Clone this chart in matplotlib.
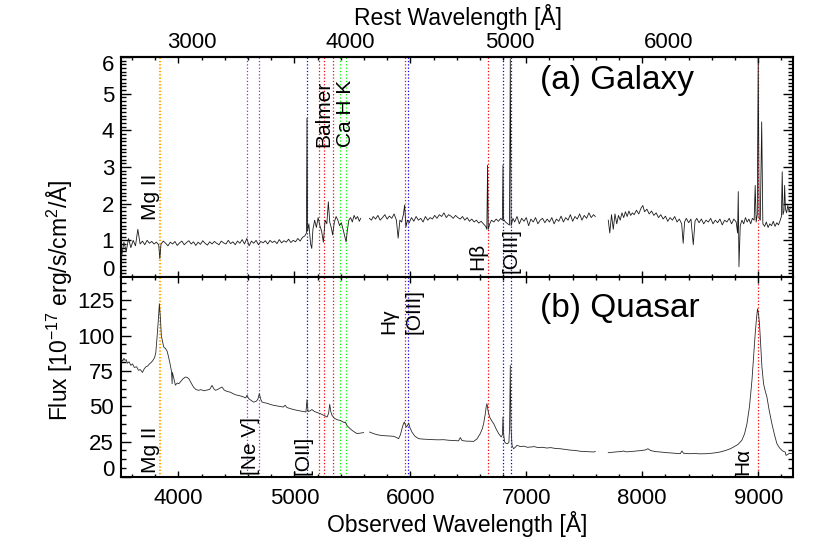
import matplotlib
matplotlib.use('Agg')
import matplotlib.pyplot as plt
import numpy as np
from matplotlib.ticker import MultipleLocator, FixedLocator, FuncFormatter, NullLocator

plt.rcParams['font.family'] = ['Liberation Sans', 'DejaVu Sans']
plt.rcParams['mathtext.fontset'] = 'custom'
plt.rcParams['mathtext.rm'] = 'Liberation Sans'
plt.rcParams['mathtext.it'] = 'Liberation Sans'
plt.rcParams['mathtext.default'] = 'regular'

# ---------------- data ----------------
redshift = 0.3713

galaxy_wave = [3510, 3530, 3550, 3570, 3590, 3610, 3630, 3650, 3670, 3690, 3710, 3730, 3750, 3770, 3790,
               3810, 3830, 3840, 3850, 3870, 3890, 3910, 3930, 3950, 3970, 3990, 4010, 4030, 4050, 4070,
               4090, 4110, 4130, 4150, 4170, 4190, 4210, 4230, 4250, 4270, 4290, 4310, 4330, 4350, 4370,
               4390, 4410, 4430, 4450, 4470, 4490, 4510, 4530, 4550, 4570, 4590, 4610, 4630, 4650, 4670,
               4690, 4710, 4730, 4750, 4770, 4790, 4810, 4830, 4850, 4870, 4890, 4910, 4930, 4950, 4970,
               4990, 5010, 5030, 5050, 5070, 5090, 5104, 5109, 5114,
               5125, 5140, 5150, 5160, 5175, 5190, 5205, 5220, 5235, 5250, 5265, 5280, 5293, 5305, 5318,
               5330, 5345, 5360, 5375, 5390, 5405, 5420, 5435, 5446, 5458, 5470, 5485, 5500, 5515, 5530,
               5545, 5560, 5572, 5610,
               5647, 5665, 5680, 5700, 5720, 5740, 5760, 5780, 5800, 5820, 5840, 5860, 5880, 5895, 5910,
               5925, 5940, 5951, 5962, 5975, 5990, 6010, 6030, 6050, 6070, 6090, 6110, 6130, 6150, 6170,
               6190, 6210, 6230, 6250, 6270, 6290, 6310, 6330, 6350, 6370, 6390, 6410, 6430, 6450, 6470,
               6490, 6510, 6530, 6550, 6570, 6590, 6610, 6630, 6650, 6660, 6666, 6672, 6685, 6700, 6720,
               6740, 6760, 6780, 6794, 6799, 6804, 6820, 6840, 6855, 6862, 6869, 6885, 6900, 6920, 6940,
               6960, 6980, 7000, 7020, 7040, 7060, 7080, 7100, 7120, 7140, 7160, 7180, 7200, 7220, 7240,
               7260, 7280, 7300, 7320, 7340, 7360, 7380, 7400, 7420, 7440, 7460, 7480, 7500, 7520, 7540,
               7560, 7580, 7595, 7650,
               7707, 7720, 7735, 7750, 7765, 7780, 7795, 7810, 7825, 7840, 7855, 7870, 7885, 7900, 7915,
               7930, 7950, 7970, 7990, 8005, 8020, 8040, 8060, 8080, 8100, 8120, 8140, 8160, 8180, 8200,
               8220, 8240, 8260, 8280, 8300, 8320, 8340, 8353, 8365, 8380, 8400, 8420, 8440, 8455, 8470,
               8490, 8510, 8530, 8550, 8570, 8590, 8610, 8630, 8650, 8670, 8690, 8710, 8730, 8750, 8770,
               8790, 8810, 8822, 8828, 8834, 8845, 8860, 8875, 8890, 8905, 8920, 8935, 8950, 8965, 8974,
               8982, 8992, 9000, 9008, 9018, 9030, 9040, 9055, 9070, 9085, 9100, 9115, 9130, 9145, 9160,
               9175, 9190, 9200, 9207, 9213, 9222, 9228, 9235, 9245, 9255, 9265, 9280]
galaxy_flux = [0.55, 0.95, 0.70, 1.05, 0.80, 1.00, 0.85, 1.30, 0.90, 0.98, 0.88, 1.00, 0.92, 0.97, 0.90,
               0.95, 0.88, 0.50, 0.90, 0.98, 0.92, 0.85, 0.95, 0.90, 0.97, 0.86, 0.93, 0.98, 0.88, 0.94,
               0.99, 0.90, 0.96, 0.86, 0.95, 0.89, 0.99, 0.92, 0.87, 0.96, 0.90, 0.97, 0.92, 0.88, 0.98,
               0.93, 0.90, 1.00, 0.91, 0.96, 0.88, 0.98, 0.92, 1.02, 0.90, 1.05, 0.85, 0.98, 0.92, 1.00,
               0.88, 0.97, 0.93, 0.99, 0.90, 1.00, 0.94, 0.98, 0.91, 1.02, 0.93, 0.99, 0.95, 1.03, 0.94,
               1.00, 0.96, 1.05, 0.98, 1.08, 1.12, 1.20, 4.33, 1.25,
               1.45, 0.90, 0.78, 1.30, 1.55, 1.35, 1.62, 1.40, 1.25, 0.95, 1.55, 1.45, 2.05, 1.50, 1.35,
               1.15, 1.50, 1.65, 1.55, 1.40, 1.48, 1.30, 1.10, 0.96, 1.30, 1.55, 1.62, 1.50, 1.68, 1.58,
               1.65, 1.52, 1.60, np.nan,
               1.60, 1.55, 1.65, 1.58, 1.68, 1.55, 1.62, 1.70, 1.58, 1.66, 1.60, 1.72, 1.55, 1.06, 1.55,
               1.50, 1.70, 1.96, 1.37, 1.55, 1.48, 1.62, 1.52, 1.65, 1.55, 1.60, 1.50, 1.65, 1.55, 1.62,
               1.58, 1.68, 1.60, 1.70, 1.65, 1.75, 1.62, 1.70, 1.66, 1.60, 1.68, 1.62, 1.58, 1.65, 1.55,
               1.62, 1.52, 1.58, 1.50, 1.55, 1.47, 1.52, 1.45, 1.38, 1.30, 3.05, 1.30, 1.45, 1.55, 1.50,
               1.58, 1.52, 1.60, 1.55, 3.05, 1.58, 1.50, 1.45, 1.42, 5.95, 1.40, 1.60, 1.50, 1.65, 1.45,
               1.60, 1.52, 1.62, 1.40, 1.58, 1.50, 1.62, 1.45, 1.55, 1.60, 1.48, 1.58, 1.50, 1.62, 1.45,
               1.58, 1.52, 1.66, 1.50, 1.62, 1.55, 1.70, 1.52, 1.65, 1.58, 1.72, 1.55, 1.68, 1.60, 1.75,
               1.62, 1.70, 1.65, np.nan,
               1.55, 1.20, 1.70, 1.30, 1.72, 1.45, 1.68, 1.55, 1.75, 1.62, 1.78, 1.65, 1.80, 1.68, 1.75,
               1.70, 1.82, 1.72, 1.88, 1.95, 1.78, 1.85, 1.72, 1.80, 1.68, 1.75, 1.62, 1.70, 1.58, 1.66,
               1.52, 1.62, 1.55, 1.65, 1.50, 1.58, 1.45, 0.92, 1.50, 1.60, 1.48, 1.58, 0.88, 1.52, 1.60,
               1.48, 1.58, 1.45, 1.55, 1.50, 1.60, 1.45, 1.55, 1.48, 1.58, 1.42, 1.55, 1.50, 1.60, 1.45,
               1.58, 1.50, 1.20, 2.33, 0.28, 1.40, 1.55, 1.45, 1.62, 1.50, 1.58, 1.45, 1.60, 1.55, 2.50,
               1.50, 1.70, 5.97, 1.60, 1.55, 4.23, 1.45, 1.38, 1.50, 1.35, 1.45, 1.40, 1.52, 1.38, 1.48,
               1.42, 1.55, 1.65, 2.87, 1.70, 1.80, 2.50, 1.85, 1.75, 1.95, 1.80, 1.90]

quasar_wave = [3510, 3520, 3530, 3540, 3550, 3560, 3575, 3590, 3605, 3620, 3640, 3655, 3672, 3690, 3705,
               3720, 3735, 3750, 3765, 3780, 3795, 3805, 3816, 3826, 3836, 3845, 3853, 3863, 3873, 3888,
               3903, 3915, 3928, 3940, 3946, 3948, 3960, 3974, 3990, 4003, 4020, 4040, 4060, 4075, 4090,
               4110, 4130, 4150, 4172, 4195, 4220, 4247, 4270, 4290, 4305, 4320, 4340, 4360, 4376, 4395,
               4420, 4448, 4475, 4500, 4530, 4563, 4580, 4592, 4605, 4630, 4649, 4670, 4685, 4698, 4710,
               4721, 4745, 4770, 4795, 4822, 4850, 4880, 4905, 4920, 4935, 4960, 4990, 5020, 5052, 5080,
               5100, 5109, 5118, 5135, 5152, 5170, 5195, 5224, 5250, 5270, 5282, 5295, 5305, 5315, 5325,
               5345, 5370, 5395, 5415, 5430, 5440, 5453, 5466, 5490, 5515, 5540, 5565, 5597, 5620,
               5649, 5680, 5710, 5741, 5780, 5820, 5856, 5880, 5899, 5915, 5928, 5940, 5948, 5957, 5966,
               5976, 5986, 5996, 6014, 6040, 6072, 6110, 6150, 6201, 6245, 6287, 6330, 6375, 6416, 6431,
               6446, 6480, 6515, 6546, 6575, 6603, 6620, 6632, 6645, 6655, 6661, 6670, 6684, 6700, 6719,
               6740, 6762, 6784, 6794, 6799, 6805, 6813, 6825, 6839, 6850, 6856, 6862, 6868, 6877, 6890,
               6905, 6920, 6950, 6980, 7010, 7034, 7070, 7100, 7140, 7178, 7210, 7250, 7293, 7340, 7380,
               7420, 7466, 7510, 7550, 7580, 7595, 7650,
               7707, 7740, 7780, 7820, 7839, 7860, 7900, 7954, 8000, 8030, 8049, 8070, 8110, 8155, 8200,
               8250, 8300, 8328, 8342, 8356, 8400, 8450, 8500, 8558, 8610, 8672, 8720, 8760, 8787, 8825,
               8859, 8882, 8903, 8925, 8946, 8960, 8974, 8985, 8994, 9003, 9011, 9020, 9032, 9046, 9060,
               9075, 9095, 9118, 9140, 9161, 9185, 9204, 9220, 9233, 9240, 9255, 9270, 9290]
quasar_flux = [83.5, 82.0, 84.0, 82.5, 83.0, 80.5, 81.5, 79.0, 80.0, 77.5, 78.0, 75.5, 76.0, 74.0, 76.5,
               78.0, 78.5, 80.0, 81.0, 82.5, 84.5, 88.0, 99.0, 110.0, 122.6, 112.0, 100.0, 96.0, 92.0, 91.0,
               89.0, 85.0, 80.0, 75.0, 66.0, 74.0, 70.0, 65.0, 66.5, 66.0, 67.5, 69.5, 70.7, 70.5, 69.5,
               66.5, 63.6, 62.0, 61.3, 61.8, 61.0, 61.5, 62.0, 64.8, 62.5, 61.3, 62.0, 63.0, 63.6, 61.5,
               60.5, 60.0, 58.8, 58.0, 57.5, 56.6, 56.0, 57.8, 55.5, 54.0, 53.0, 53.5, 55.0, 59.0, 55.0,
               53.0, 52.5, 52.0, 51.3, 50.7, 50.3, 49.8, 49.5, 50.8, 49.2, 48.5, 47.8, 47.2, 46.7, 46.3,
               46.0, 54.7, 46.3, 46.8, 47.7, 46.5, 45.6, 44.8, 43.8, 43.0, 42.4, 45.0, 51.4, 46.0, 43.6,
               41.5, 40.5, 40.0, 39.2, 38.5, 38.9, 36.5, 35.4, 33.5, 32.0, 30.7, 31.0, 31.4, np.nan,
               31.8, 30.8, 30.0, 29.5, 29.2, 29.0, 28.8, 28.0, 27.1, 30.0, 34.2, 37.5, 38.9, 37.0, 35.4,
               36.5, 38.2, 35.0, 31.8, 28.8, 27.1, 26.8, 26.6, 26.4, 26.3, 26.4, 26.0, 25.8, 25.6, 27.9,
               25.8, 25.4, 25.3, 25.2, 27.0, 30.7, 34.0, 37.7, 44.0, 50.0, 51.9, 47.0, 42.4, 40.0, 37.7,
               34.0, 30.7, 28.3, 30.0, 42.4, 30.0, 24.8, 23.8, 23.6, 24.5, 35.0, 79.0, 35.0, 22.4, 20.0,
               21.0, 22.4, 21.5, 21.8, 21.0, 21.2, 21.5, 20.8, 21.0, 20.5, 20.8, 20.2, 20.0, 19.5, 19.0,
               18.8, 18.2, 18.0, 17.8, 17.7, 18.0, np.nan,
               17.2, 17.5, 17.8, 18.0, 18.4, 17.8, 18.0, 18.4, 18.8, 19.2, 20.0, 18.8, 18.0, 17.7, 17.3,
               17.0, 16.7, 16.5, 18.4, 16.8, 16.5, 16.6, 16.4, 16.5, 16.9, 17.7, 18.8, 20.0, 21.2, 23.0,
               26.0, 30.5, 37.7, 50.0, 68.4, 85.0, 101.4, 112.0, 119.0, 115.0, 108.5, 95.0, 77.8, 66.0, 61.0,
               56.6, 47.0, 37.7, 30.0, 23.6, 20.5, 18.9, 18.0, 17.7, 15.3, 16.0, 16.8, 16.5]

# emission / absorption line markers (rest wavelength, colour)
line_rest = [2796, 2803, 3346, 3426, 3727, 3798, 3835, 3889, 3934, 3968, 4340, 4363, 4861, 4959, 5007, 6563]
line_color = ['#FFA500', '#FFA500', '#A020F0', '#A020F0', '#0000FF', '#FF0000', '#FF0000', '#FF0000',
              '#00FF00', '#00FF00', '#FF0000', '#0000FF', '#FF0000', '#0000FF', '#0000FF', '#FF0000']

# labels: (text, observed wavelength of right edge, flux of bottom edge)
galaxy_labels = [('Mg II', 3845, 1.55), ('Balmer', 5336, 3.55), ('Ca H K', 5526, 3.55),
                 ('Hβ', 6664, 0.19), ('[OIII]', 6948, 0.11)]
quasar_labels = [('Mg II', 3845, 2.6), ('[Ne V]', 4707, 1.2), ('[OII]', 5155, 1.2),
                 ('Hγ', 5897, 101.5), ('[OIII]', 6112, 101.5), ('Hα', 8948, 1.2)]

xticks_obs = [4000, 5000, 6000, 7000, 8000, 9000]
xticks_rest = [3000, 4000, 5000, 6000]

# ---------------- figure ----------------
W, H = 830, 554
fig = plt.figure(figsize=(W / 100, H / 100), dpi=100)
L, R = 121, 793
ax1 = fig.add_axes([L / W, 1 - 277 / H, (R - L) / W, 220 / H])
ax2 = fig.add_axes([L / W, 1 - 477 / H, (R - L) / W, 200 / H], sharex=ax1)

fs_tick = 16
for ax in (ax1, ax2):
    for s in ax.spines.values():
        s.set_linewidth(1.5)
    ax.set_xlim(3505, 9300)
    ax.xaxis.set_major_locator(FixedLocator(xticks_obs))
    ax.xaxis.set_minor_locator(MultipleLocator(200))
    ax.tick_params(axis='x', which='both', direction='in', top=True, bottom=True, width=1.0)
    ax.tick_params(axis='x', which='major', length=4.5, labelsize=fs_tick, pad=8)
    ax.tick_params(axis='x', which='minor', length=2.5)
    ax.tick_params(axis='y', which='both', direction='in', left=True, right=True, width=1.0)
    ax.tick_params(axis='y', which='major', length=7.5, labelsize=fs_tick, pad=5)
    ax.tick_params(axis='y', which='minor', length=3.5)
    for w, c in zip(line_rest, line_color):
        ax.axvline(w * (1 + redshift), color=c, ls=':', lw=0.9, zorder=1)

ax1.tick_params(axis='x', labelbottom=False)

# galaxy panel
ax1.plot(galaxy_wave, galaxy_flux, color='#1a1a1a', lw=0.6, zorder=3)
ax1.set_ylim(0, 6.0)
ax1.yaxis.set_major_locator(MultipleLocator(1))
ax1.yaxis.set_minor_locator(MultipleLocator(0.1))
ax1.yaxis.set_major_formatter(FuncFormatter(lambda v, p: '' if round(v) in (0, 6) else f'{v:g}'))
ax1.annotate('6', xy=(0, 6), xycoords=('axes fraction', 'data'), xytext=(-7, -8.5),
             textcoords='offset pixels', ha='right', va='center', fontsize=fs_tick)
ax1.annotate('0', xy=(0, 0), xycoords=('axes fraction', 'data'), xytext=(-7, 7),
             textcoords='offset pixels', ha='right', va='center', fontsize=fs_tick)

# quasar panel
ax2.plot(quasar_wave, quasar_flux, color='#2a2a2a', lw=0.6, zorder=3)
ax2.set_ylim(0, 141.5)
ax2.yaxis.set_major_locator(MultipleLocator(25))
ax2.yaxis.set_minor_locator(MultipleLocator(6.25))
ax2.yaxis.set_major_formatter(FuncFormatter(lambda v, p: '' if round(v) == 0 else f'{v:g}'))
ax2.annotate('0', xy=(0, 0), xycoords=('axes fraction', 'data'), xytext=(-7, 7),
             textcoords='offset pixels', ha='right', va='center', fontsize=fs_tick)

# rest-wavelength axis on top
sec = ax1.secondary_xaxis('top', functions=(lambda x: x / (1 + redshift), lambda x: x * (1 + redshift)))
sec.set_xticks(xticks_rest)
sec.xaxis.set_minor_locator(NullLocator())
sec.tick_params(axis='x', length=0, labelsize=fs_tick, pad=3)
sec.spines['top'].set_linewidth(1.5)

# line labels
fs_lab = 15
for txt, x, y in galaxy_labels:
    ax1.text(x, y, txt, rotation=90, ha='right', va='bottom', fontsize=fs_lab, zorder=4)
for txt, x, y in quasar_labels:
    ax2.text(x, y, txt, rotation=90, ha='right', va='bottom', fontsize=fs_lab, zorder=4)

# panel titles
fig.text(540 / W, 1 - 80 / H, '(a) Galaxy', fontsize=24, ha='left', va='center')
fig.text(540 / W, 1 - 308 / H, '(b) Quasar', fontsize=24, ha='left', va='center')

# axis titles
fig.text(457.5 / W, 1 - 17 / H, 'Rest Wavelength [Å]', fontsize=16.5, ha='center', va='center')
fig.text(457.5 / W, 1 - 524 / H, 'Observed Wavelength [Å]', fontsize=16.5, ha='center', va='center')
fig.text(60 / W, 1 - 300 / H, r'Flux [10$^{-17}$ erg/s/cm$^{2}$/Å]', fontsize=16.5,
         ha='center', va='center', rotation=90)

fig.savefig('out.png', dpi=100)
